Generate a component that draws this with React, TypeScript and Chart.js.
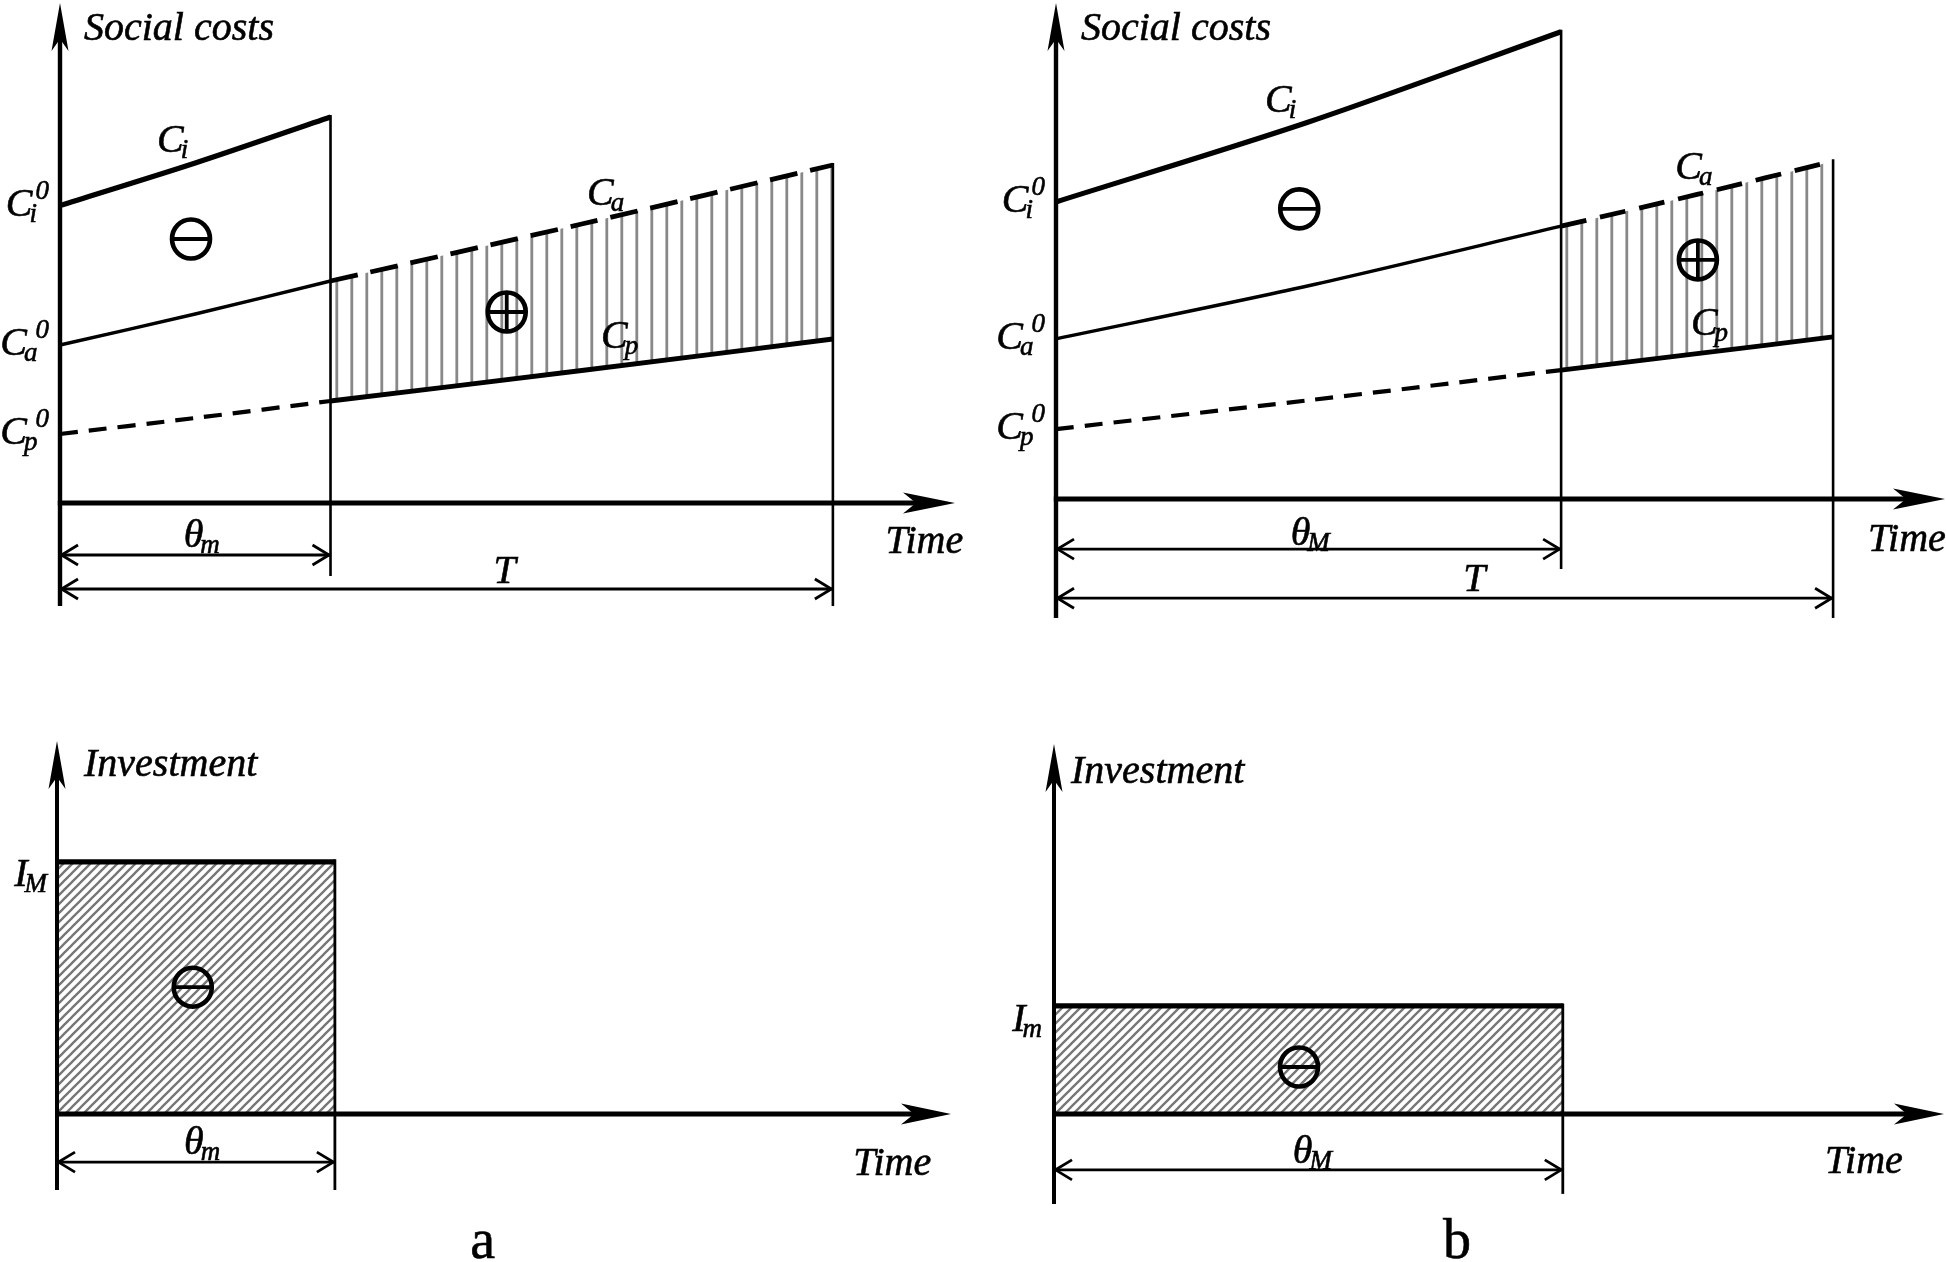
import { useEffect, useRef } from "react";
import { Chart, registerables } from "chart.js";

Chart.register(...registerables);

const W = 1946;
const H = 1262;
const FONT = '"Liberation Serif", "Times New Roman", serif';

// ---------------- data (panel a, social costs) ----------------
const timeA = [0, 1.75, 3.5, 6.75, 10];
const ciA = [59.5, 68.0, 77.2];
const caA = [31.6, 37.8, 44.4, 55.8, 67.6];
const cpA = [13.8, 17.0, 20.4, 26.5, 32.8];
const thetaA = 3.5; // θm
const horizonT = 10; // T

// ---------------- data (panel b, social costs) ----------------
const timeB = [0, 3.25, 6.5, 8.25, 10];
const ciB = [59.9, 76.0, 94.2];
const caB = [32.3, 43.0, 55.0, 61.4, 68.1];
const cpB = [14.1, 19.9, 26.0, 29.3, 32.7];
const thetaB = 6.5; // θM

// ---------------- data (investment) ----------------
const invTimeA = [0, 3.5];
const invA = [67.6, 67.6]; // I_M
const invTimeB = [0, 6.5];
const invB = [29.2, 29.2]; // I_m

type Pt = { x: number; y: number };
function seg(times: number[], vals: number[], from: number, to: number): Pt[] {
  const out: Pt[] = [];
  for (let i = 0; i < vals.length; i++) {
    const t = times[i];
    if (t >= from - 1e-9 && t <= to + 1e-9) out.push({ x: t, y: vals[i] });
  }
  return out;
}

function font(size: number, italic = true) {
  return `${italic ? "italic " : ""}${size}px ${FONT}`;
}

function txt(ctx: CanvasRenderingContext2D, s: string, x: number, y: number, size: number, italic = true, align: CanvasTextAlign = "left") {
  ctx.font = font(size, italic);
  ctx.textAlign = align;
  ctx.textBaseline = "alphabetic";
  ctx.fillStyle = "#000";
  ctx.fillText(s, x, y);
  // slight thickening to mimic the heavier print
  ctx.lineWidth = 0.6;
  ctx.strokeStyle = "#000";
  ctx.strokeText(s, x, y);
}

function sym(ctx: CanvasRenderingContext2D, x: number, base: number, main: string, sub?: string, sup?: string, alignRight = false) {
  const big = 40;
  const small = 27;
  ctx.font = font(big);
  const w = ctx.measureText(main).width;
  ctx.font = font(small);
  const sw = sub ? ctx.measureText(sub).width : 0;
  const pw = sup ? ctx.measureText(sup).width : 0;
  const subX = w - 3;
  const supX = sub ? Math.max(w + 3, subX + sw - 2) : w + 2;
  const total = Math.max(w, sub ? subX + sw : 0, sup ? supX + pw : 0);
  const left = alignRight ? x - total : x;
  txt(ctx, main, left, base, big);
  if (sub) txt(ctx, sub, left + subX, base + 6, small);
  if (sup) txt(ctx, sup, left + supX, base - 17, small);
}

function stroke(ctx: CanvasRenderingContext2D, pts: number[][], w: number) {
  ctx.beginPath();
  ctx.moveTo(pts[0][0], pts[0][1]);
  for (let i = 1; i < pts.length; i++) ctx.lineTo(pts[i][0], pts[i][1]);
  ctx.setLineDash([]);
  ctx.lineCap = "butt";
  ctx.lineWidth = w;
  ctx.strokeStyle = "#000";
  ctx.stroke();
}

function stealth(ctx: CanvasRenderingContext2D, tx: number, ty: number, dx: number, dy: number, len: number, half: number, notch: number) {
  const bx = tx - dx * len;
  const by = ty - dy * len;
  const nx = -dy;
  const ny = dx;
  ctx.beginPath();
  ctx.moveTo(tx, ty);
  ctx.lineTo(bx + nx * half, by + ny * half);
  ctx.lineTo(tx - dx * (len - notch), ty - dy * (len - notch));
  ctx.lineTo(bx - nx * half, by - ny * half);
  ctx.closePath();
  ctx.fillStyle = "#000";
  ctx.fill();
}

function dim(ctx: CanvasRenderingContext2D, x1: number, x2: number, y: number) {
  stroke(ctx, [[x1, y], [x2, y]], 2.8);
  const L = 18;
  const h = 10;
  ctx.lineJoin = "miter";
  stroke(ctx, [[x1 + L, y - h], [x1 + 1.5, y], [x1 + L, y + h]], 2.8);
  stroke(ctx, [[x2 - L, y - h], [x2 - 1.5, y], [x2 - L, y + h]], 2.8);
}

function oSym(ctx: CanvasRenderingContext2D, cx: number, cy: number, plus: boolean) {
  const rx = 19;
  const ry = 19.5;
  ctx.setLineDash([]);
  ctx.strokeStyle = "#000";
  ctx.lineWidth = 4.6;
  ctx.beginPath();
  ctx.ellipse(cx, cy, rx, ry, 0, 0, Math.PI * 2);
  ctx.stroke();
  ctx.lineWidth = 3.8;
  ctx.beginPath();
  ctx.moveTo(cx - rx, cy);
  ctx.lineTo(cx + rx, cy);
  if (plus) {
    ctx.moveTo(cx, cy - ry);
    ctx.lineTo(cx, cy + ry);
  }
  ctx.stroke();
}

type TextItem = { t: number; v: number; main: string; sub?: string; sup?: string; plain?: number };
type Area = { left: number; top: number; right: number; bottom: number };

type CostsCfg = {
  kind: "costs";
  times: number[];
  ci: number[];
  ca: number[];
  cp: number[];
  theta: number;
  T: number;
  xMax: number;
  yMax: number;
  area: Area;
  thetaBottom: number;
  bottom: number;
  thetaArrow: number;
  TArrow: number;
  title: string;
  titleDx: number;
  titleDy: number;
  dash: number[];
  texts: TextItem[];
  minus: number[];
  plus: number[];
};

type InvCfg = {
  kind: "inv";
  times: number[];
  inv: number[];
  theta: number;
  xMax: number;
  yMax: number;
  area: Area;
  lineBottom: number;
  axisBottom: number;
  thetaArrow: number;
  title: string;
  titleDx: number;
  titleDy: number;
  levelSub: string;
  levelDx: number;
  levelDy: number;
  texts: TextItem[];
  minus: number[];
};

const panels: (CostsCfg | InvCfg)[] = [
  {
    kind: "costs",
    times: timeA, ci: ciA, ca: caA, cp: cpA, theta: thetaA, T: horizonT,
    xMax: 11.58, yMax: 100,
    area: { left: 60, top: 3, right: 955, bottom: 503 },
    thetaBottom: -14.6, bottom: -20.6, thetaArrow: -10.4, TArrow: -17.2,
    title: "Social costs", titleDx: 24, titleDy: 37,
    dash: [28, 13],
    texts: [
      { t: 1.255, v: 70.2, main: "C", sub: "i" },
      { t: 6.82, v: 59.6, main: "C", sub: "a" },
      { t: 7.0, v: 31.0, main: "C", sub: "p" },
      { t: 1.6, v: -8.8, main: "θ", sub: "m" },
      { t: 5.61, v: -16.0, main: "T" },
      { t: 10.68, v: -10.0, main: "Time" },
    ],
    minus: [1.695, 52.8],
    plus: [5.78, 38.2],
  },
  {
    kind: "costs",
    times: timeB, ci: ciB, ca: caB, cp: cpB, theta: thetaB, T: horizonT,
    xMax: 11.44, yMax: 100,
    area: { left: 1056, top: 3, right: 1945, bottom: 499 },
    thetaBottom: -14.1, bottom: -24.0, thetaArrow: -10.1, TArrow: -20.0,
    title: "Social costs", titleDx: 25, titleDy: 37,
    dash: [26, 14],
    texts: [
      { t: 2.69, v: 78.0, main: "C", sub: "i" },
      { t: 7.97, v: 64.5, main: "C", sub: "a" },
      { t: 8.17, v: 33.1, main: "C", sub: "p" },
      { t: 3.02, v: -9.3, main: "θ", sub: "M" },
      { t: 5.24, v: -18.5, main: "T" },
      { t: 10.45, v: -10.5, main: "Time" },
    ],
    minus: [3.13, 58.5],
    plus: [8.26, 48.2],
  },
  {
    kind: "inv",
    times: invTimeA, inv: invA, theta: thetaA,
    xMax: 11.26, yMax: 100,
    area: { left: 57, top: 741, right: 951, bottom: 1114 },
    lineBottom: -20.4, axisBottom: -20.4, thetaArrow: -12.9,
    title: "Investment", titleDx: 27, titleDy: 35,
    levelSub: "M", levelDx: -10, levelDy: 24,
    texts: [
      { t: 1.6, v: -10.7, main: "θ", sub: "m" },
      { t: 10.03, v: -16.4, main: "Time" },
      { t: 5.36, v: -38.6, main: "a", plain: 56 },
    ],
    minus: [1.71, 34.0],
  },
  {
    kind: "inv",
    times: invTimeB, inv: invB, theta: thetaB,
    xMax: 11.37, yMax: 100,
    area: { left: 1054, top: 744, right: 1944, bottom: 1114 },
    lineBottom: -21.6, axisBottom: -24.3, thetaArrow: -15.1,
    title: "Investment", titleDx: 17, titleDy: 39,
    levelSub: "m", levelDx: -12, levelDy: 25,
    texts: [
      { t: 3.05, v: -13.2, main: "θ", sub: "M" },
      { t: 9.85, v: -15.9, main: "Time" },
      { t: 5.15, v: -38.9, main: "b", plain: 56 },
    ],
    minus: [3.13, 12.7],
  },
];

function makeVPattern(): CanvasPattern | string {
  const c = document.createElement("canvas");
  c.width = 15;
  c.height = 15;
  const g = c.getContext("2d")!;
  g.fillStyle = "#888888";
  g.fillRect(5.4, 0, 2.8, 15);
  return g.createPattern(c, "repeat") || "#ccc";
}

function makeDPattern(): CanvasPattern | string {
  const c = document.createElement("canvas");
  c.width = 9;
  c.height = 9;
  const g = c.getContext("2d")!;
  g.strokeStyle = "#767676";
  g.lineWidth = 2.3;
  g.beginPath();
  for (const k of [0, 9, 18]) {
    g.moveTo(-2, k + 2);
    g.lineTo(11, k - 11);
  }
  g.stroke();
  return g.createPattern(c, "repeat") || "#bbb";
}

function drawTexts(ctx: CanvasRenderingContext2D, X: (v: number) => number, Y: (v: number) => number, texts: TextItem[]) {
  for (const it of texts) {
    if (it.plain) txt(ctx, it.main, X(it.t), Y(it.v), it.plain, false, "center");
    else sym(ctx, X(it.t), Y(it.v), it.main, it.sub, it.sup);
  }
}

function buildConfig(p: CostsCfg | InvCfg, vPat: any, dPat: any): any {
  const base = {
    borderColor: "#000",
    pointRadius: 0,
    pointHoverRadius: 0,
    fill: false,
    clip: false as any,
    tension: 0.3,
    borderCapStyle: "butt",
    order: 0,
  };
  let datasets: any[];
  if (p.kind === "costs") {
    datasets = [
      { ...base, data: seg(p.times, p.ci, 0, p.theta), borderWidth: 5.2 },
      { ...base, data: seg(p.times, p.ca, 0, p.theta), borderWidth: 3.4 },
      {
        ...base,
        data: seg(p.times, p.ca, p.theta, p.T),
        borderWidth: 4.8,
        borderDash: p.dash,
        fill: { target: 4 },
        backgroundColor: vPat,
        order: 5,
      },
      { ...base, data: seg(p.times, p.cp, 0, p.theta), borderWidth: 4.2, borderDash: [18, 11] },
      { ...base, data: seg(p.times, p.cp, p.theta, p.T), borderWidth: 4.8 },
    ];
  } else {
    datasets = [
      {
        ...base,
        tension: 0,
        data: seg(p.times, p.inv, 0, p.theta),
        borderWidth: 5.2,
        fill: "origin",
        backgroundColor: dPat,
      },
    ];
  }

  const diagram = {
    id: "diagram",
    afterDraw(chart: any) {
      const ctx: CanvasRenderingContext2D = chart.ctx;
      const X = (v: number) => chart.scales.x.getPixelForValue(v);
      const Y = (v: number) => chart.scales.y.getPixelForValue(v);
      const { top, right } = chart.chartArea;
      const x0 = X(0);
      const y0 = Y(0);
      const xt = X(p.theta);
      ctx.save();
      if (p.kind === "costs") {
        const xT = X(p.T);
        stroke(ctx, [[xt, Y(p.ci[p.ci.length - 1]) - 2], [xt, Y(p.thetaBottom)]], 2.6);
        stroke(ctx, [[xT, Y(p.ca[p.ca.length - 1]) - 2], [xT, Y(p.bottom)]], 2.6);
        stroke(ctx, [[x0, Y(p.bottom)], [x0, top + 30]], 4.4);
        stealth(ctx, x0, top, 0, -1, 48, 8.5, 12);
        stroke(ctx, [[x0 - 2.2, y0], [right - 30, y0]], 5);
        stealth(ctx, right, y0, 1, 0, 52, 10.5, 13);
        dim(ctx, x0, xt, Y(p.thetaArrow));
        dim(ctx, x0, xT, Y(p.TArrow));
        sym(ctx, x0 - 11, Y(p.ci[0]) + 10, "C", "i", "0", true);
        sym(ctx, x0 - 11, Y(p.ca[0]) + 10, "C", "a", "0", true);
        sym(ctx, x0 - 11, Y(p.cp[0]) + 10, "C", "p", "0", true);
        oSym(ctx, X(p.minus[0]), Y(p.minus[1]), false);
        oSym(ctx, X(p.plus[0]), Y(p.plus[1]), true);
      } else {
        stroke(ctx, [[xt, Y(p.inv[p.inv.length - 1]) - 2.5], [xt, Y(p.lineBottom)]], 2.8);
        stroke(ctx, [[x0, Y(p.axisBottom)], [x0, top + 30]], 4);
        stealth(ctx, x0, top, 0, -1, 48, 8.5, 12);
        stroke(ctx, [[x0 - 2, y0], [right - 30, y0]], 5);
        stealth(ctx, right, y0, 1, 0, 50, 10.5, 13);
        dim(ctx, x0, xt, Y(p.thetaArrow));
        sym(ctx, x0 + p.levelDx, Y(p.inv[0]) + p.levelDy, "I", p.levelSub, undefined, true);
        oSym(ctx, X(p.minus[0]), Y(p.minus[1]), false);
      }
      txt(ctx, p.title, x0 + p.titleDx, top + p.titleDy, 40);
      drawTexts(ctx, X, Y, p.texts);
      ctx.restore();
    },
  };

  return {
    type: "line",
    data: { datasets },
    options: {
      animation: false,
      responsive: false,
      maintainAspectRatio: false,
      events: [],
      layout: {
        padding: {
          left: p.area.left,
          top: p.area.top,
          right: W - p.area.right,
          bottom: H - p.area.bottom,
        },
      },
      scales: {
        x: { type: "linear", min: 0, max: p.xMax, display: false },
        y: { type: "linear", min: 0, max: p.yMax, display: false },
      },
      plugins: {
        legend: { display: false },
        tooltip: { enabled: false },
        filler: { propagate: false },
      },
    },
    plugins: [diagram],
  };
}

export default function App() {
  const r0 = useRef<HTMLCanvasElement>(null);
  const r1 = useRef<HTMLCanvasElement>(null);
  const r2 = useRef<HTMLCanvasElement>(null);
  const r3 = useRef<HTMLCanvasElement>(null);
  const refs = [r0, r1, r2, r3];

  useEffect(() => {
    const vPat = makeVPattern();
    const dPat = makeDPattern();
    const charts = panels.map((p, i) => new Chart(refs[i].current!, buildConfig(p, vPat, dPat)));
    return () => charts.forEach((c) => c.destroy());
  }, []);

  return (
    <div
      style={{
        position: "absolute",
        left: 0,
        top: 0,
        width: W,
        height: H,
        background: "#fff",
        overflow: "hidden",
      }}
    >
      {refs.map((r, i) => (
        <canvas
          key={i}
          ref={r}
          width={W}
          height={H}
          style={{ position: "absolute", left: 0, top: 0, width: W, height: H }}
        />
      ))}
    </div>
  );
}
